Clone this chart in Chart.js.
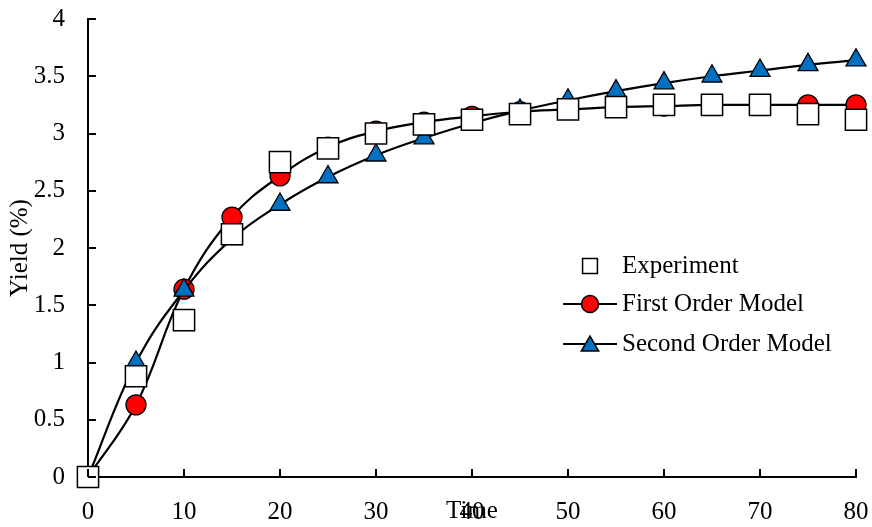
<!DOCTYPE html>
<html>
<head>
<meta charset="utf-8">
<script src="https://cdn.jsdelivr.net/npm/chart.js@4/dist/chart.umd.min.js"></script>
<style>
  html, body { margin: 0; padding: 0; background: #fff; }
  #wrap { width: 872px; height: 527px; position: relative; }
</style>
</head>
<body>
<div id="wrap"><canvas id="c" width="872" height="527"></canvas></div>
<script>
const times = [0, 5, 10, 15, 20, 25, 30, 35, 40, 45, 50, 55, 60, 65, 70, 75, 80];
const experiment = [0, 0.88, 1.37, 2.12, 2.75, 2.87, 3.0, 3.08, 3.12, 3.17, 3.21, 3.23, 3.25, 3.25, 3.25, 3.17, 3.12];
const firstOrder = [0, 0.63, 1.64, 2.27, 2.63, 2.88, 3.02, 3.1, 3.15, 3.19, 3.21, 3.23, 3.24, 3.25, 3.25, 3.25, 3.25];
const secondOrder = [0, 1.0, 1.63, 2.08, 2.38, 2.62, 2.81, 2.96, 3.09, 3.2, 3.29, 3.37, 3.44, 3.5, 3.55, 3.6, 3.64];
const xTicks = [0, 10, 20, 30, 40, 50, 60, 70, 80];
const yTicks = [0, 0.5, 1, 1.5, 2, 2.5, 3, 3.5, 4];
const seriesNames = ['Experiment', 'First Order Model', 'Second Order Model'];

const FONT = "'Liberation Serif', 'Times New Roman', serif";
const pts = arr => times.map((t, i) => ({ x: t, y: arr[i] }));

const innerTicks = {
  id: 'innerTicks',
  afterDatasetsDraw(chart) {
    const { ctx, chartArea, scales } = chart;
    ctx.save();
    ctx.strokeStyle = '#000';
    ctx.lineWidth = 2;
    ctx.beginPath();
    yTicks.forEach(v => {
      const y = Math.round(scales.y.getPixelForValue(v));
      ctx.moveTo(chartArea.left, y);
      ctx.lineTo(chartArea.left + 8, y);
    });
    xTicks.forEach(v => {
      const x = Math.round(scales.x.getPixelForValue(v));
      ctx.moveTo(x, chartArea.bottom);
      ctx.lineTo(x, chartArea.bottom - 8);
    });
    ctx.stroke();
    ctx.restore();
  }
};

const innerLegend = {
  id: 'innerLegend',
  afterDraw(chart) {
    const { ctx } = chart;
    const ds = chart.data.datasets;
    const rows = [266, 304, 344];
    const radii = [10.5, 8.5, 10];
    const mx = 590, textX = 622;
    ds.forEach((d, i) => {
      const y = rows[i];
      ctx.save();
      if (d.showLine !== false) {
        ctx.strokeStyle = d.borderColor;
        ctx.lineWidth = 2;
        ctx.beginPath();
        ctx.moveTo(563, y);
        ctx.lineTo(617, y);
        ctx.stroke();
      }
      ctx.fillStyle = d.pointBackgroundColor;
      ctx.strokeStyle = d.pointBorderColor;
      ctx.lineWidth = 1.5;
      Chart.helpers.drawPoint(ctx, { pointStyle: d.pointStyle, radius: radii[i], rotation: 0, borderWidth: 1.5 }, mx, y + (i === 2 ? 2 : 0));
      ctx.fillStyle = '#000';
      ctx.font = '25px ' + FONT;
      ctx.textAlign = 'left';
      ctx.textBaseline = 'middle';
      ctx.fillText(d.label, textX, y);
      ctx.restore();
    });
  }
};

const zeroPad = s => { s.paddingTop = 0; s.paddingBottom = 0; s.paddingLeft = 0; s.paddingRight = 0; };

new Chart(document.getElementById('c'), {
  type: 'line',
  data: {
    datasets: [
      {
        label: seriesNames[0], data: pts(experiment), showLine: false,
        pointStyle: 'rect', pointRadius: 15, pointHoverRadius: 15,
        pointBackgroundColor: '#ffffff', pointBorderColor: '#000000', pointBorderWidth: 1.5,
        borderColor: '#000000', order: 0, clip: false
      },
      {
        label: seriesNames[1], data: pts(firstOrder), tension: 0.4,
        borderColor: '#000000', borderWidth: 2.2,
        pointStyle: 'circle', pointRadius: 10, pointHoverRadius: 10,
        pointBackgroundColor: '#ff0000', pointBorderColor: '#000000', pointBorderWidth: 1.3,
        order: 2, clip: false
      },
      {
        label: seriesNames[2], data: pts(secondOrder), tension: 0.4,
        borderColor: '#000000', borderWidth: 2.2,
        pointStyle: 'triangle', pointRadius: 11.5, pointHoverRadius: 11.5,
        pointBackgroundColor: '#0070c0', pointBorderColor: '#000000', pointBorderWidth: 1.3,
        order: 1, clip: false
      }
    ]
  },
  options: {
    responsive: false,
    animation: false,
    events: [],
    layout: { autoPadding: false, padding: { top: 19, right: 16, bottom: 0, left: 0 } },
    plugins: { legend: { display: false }, tooltip: { enabled: false } },
    scales: {
      x: {
        type: 'linear', min: 0, max: 80,
        afterBuildTicks: s => { s.ticks = xTicks.map(v => ({ value: v })); },
        afterFit: s => { s.height = 50; zeroPad(s); },
        grid: { display: true, drawOnChartArea: false, drawTicks: false },
        border: { display: true, color: '#000', width: 2 },
        ticks: { color: '#000', padding: 20, font: { family: FONT, size: 25 }, maxRotation: 0, callback: v => String(v) },
        title: { display: true, text: 'Time', color: '#000', font: { family: FONT, size: 25 }, padding: { top: 0, bottom: 1 } }
      },
      y: {
        type: 'linear', min: 0, max: 4,
        afterBuildTicks: s => { s.ticks = yTicks.map(v => ({ value: v })); },
        afterFit: s => { s.width = 88; zeroPad(s); },
        grid: { display: true, drawOnChartArea: false, drawTicks: false },
        border: { display: true, color: '#000', width: 2 },
        ticks: { color: '#000', padding: 23, font: { family: FONT, size: 25 }, callback: v => String(v) },
        title: { display: true, text: 'Yield (%)', color: '#000', font: { family: FONT, size: 25 }, padding: { top: 5, bottom: 0 } }
      }
    }
  },
  plugins: [innerTicks, innerLegend]
});
</script>
</body>
</html>
